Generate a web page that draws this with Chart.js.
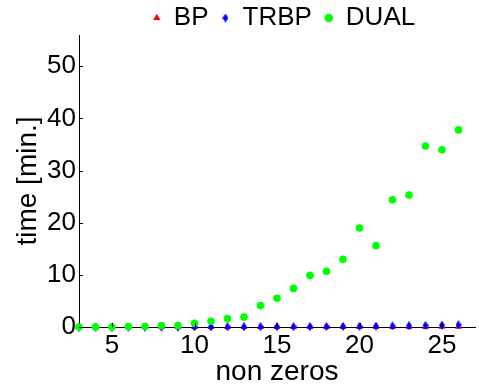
<!DOCTYPE html>
<html><head><meta charset="utf-8">
<script src="https://cdn.jsdelivr.net/npm/chart.js@4.4.0/dist/chart.umd.min.js"></script>
<style>html,body{margin:0;padding:0;background:#fff;}#wrap{width:479px;height:389px;}</style>
</head><body><div id="wrap"><canvas id="c" width="479" height="389"></canvas></div>
<script>
const nonZeros = [3,4,5,6,7,8,9,10,11,12,13,14,15,16,17,18,19,20,21,22,23,24,25,26];
const bpTime   = [0,0,0,0,0,0,0,0,0,0,0,0,0,0,0,0.01,0.01,0.01,0.01,0.02,0.02,0.02,0.03,0.03];
const trbpTime = [0,0,0,0,0,0,0,0.01,0.02,0.03,0.04,0.05,0.06,0.07,0.08,0.1,0.12,0.14,0.17,0.2,0.25,0.3,0.35,0.4];
const dualTime = [0,0,0,0.1,0.1,0.3,0.3,0.7,1.1,1.6,1.9,4.1,5.5,7.4,9.9,10.7,13.0,19.0,15.6,24.4,25.3,34.7,34.0,37.8];
const xTicks = [5,10,15,20,25];
const yTicks = [0,10,20,30,40,50];

const pts = arr => nonZeros.map((x,i)=>({x:x,y:arr[i]}));
const FONT = '"Liberation Sans", Arial, Helvetica, sans-serif';

// narrow diamond marker
function diamond(w,h,color){
  const c=document.createElement('canvas'); c.width=w; c.height=h;
  const g=c.getContext('2d'); g.fillStyle=color; g.beginPath();
  g.moveTo(w/2,0); g.lineTo(w,h/2); g.lineTo(w/2,h); g.lineTo(0,h/2); g.closePath(); g.fill();
  return c;
}
const diamondImg = diamond(6,9,'#0000ff');

const layoutTweaks = {
  id:'layoutTweaks',
  beforeLayout(chart){
    const lg = chart.legend;
    if(lg && !lg._fitWrapped){
      const orig = lg.fit;
      lg.fit = function(){ orig.call(this); this.height = 35; };
      lg._fitWrapped = true;
    }
  },
  afterLayout(chart){
    const lg = chart.legend;
    if(lg){ lg.left += 14; lg.top -= 8; lg.bottom -= 8; }
  },
  afterDraw(chart){
    const ctx = chart.ctx, xs = chart.scales.x, ys = chart.scales.y, a = chart.chartArea;
    ctx.save();
    ctx.strokeStyle = '#000'; ctx.lineWidth = 1;
    ctx.beginPath();
    xTicks.forEach(v=>{const p=Math.round(xs.getPixelForValue(v))+0.5; ctx.moveTo(p,a.bottom); ctx.lineTo(p,a.bottom-4);});
    yTicks.forEach(v=>{const p=Math.round(ys.getPixelForValue(v))+0.5; ctx.moveTo(a.left,p); ctx.lineTo(a.left+4,p);});
    ctx.stroke();
    ctx.restore();
  }
};

new Chart(document.getElementById('c'), {
  type:'scatter',
  data:{datasets:[
    {label:'BP', data:pts(bpTime), pointStyle:'triangle', pointRadius:4, backgroundColor:'#ff0000', borderColor:'#ff0000', borderWidth:0, order:3, clip:false},
    {label:'TRBP', data:pts(trbpTime), pointStyle:diamondImg, pointRadius:4, backgroundColor:'#0000ff', borderColor:'#0000ff', borderWidth:0, order:2, clip:false},
    {label:'DUAL', data:pts(dualTime), pointStyle:'circle', pointRadius:3.8, backgroundColor:'#00ff00', borderColor:'#00ff00', borderWidth:0, order:1, clip:false}
  ]},
  options:{
    responsive:false, animation:false,
    layout:{padding:{left:0,right:0,top:0,bottom:0}},
    plugins:{
      tooltip:{enabled:false},
      legend:{position:'top', align:'center', fullSize:false,
        labels:{usePointStyle:true, boxWidth:8, boxHeight:6, padding:13, color:'#000',
          font:{family:FONT, size:26},
          sort:(a,b)=>a.datasetIndex-b.datasetIndex}}
    },
    scales:{
      x:{type:'linear', min:3, max:27,
        afterBuildTicks:s=>{s.ticks = xTicks.map(v=>({value:v}));},
        afterFit:s=>{s.height = 62;},
        grid:{display:false, drawTicks:false},
        border:{display:true, color:'#000', width:1},
        ticks:{color:'#000', font:{family:FONT, size:26}, padding:3, maxRotation:0},
        title:{display:true, text:'non zeros', color:'#000', font:{family:FONT, size:28}, padding:{top:2,bottom:0}}
      },
      y:{type:'linear', min:0, max:56,
        afterBuildTicks:s=>{s.ticks = yTicks.map(v=>({value:v}));},
        afterFit:s=>{s.width = 79;},
        grid:{display:false, drawTicks:false},
        border:{display:true, color:'#000', width:1},
        ticks:{color:'#000', font:{family:FONT, size:26}, padding:3},
        title:{display:true, text:'time [min.]', color:'#000', font:{family:FONT, size:28}, padding:{top:11,bottom:0}}
      }
    }
  },
  plugins:[layoutTweaks]
});
</script></body></html>
